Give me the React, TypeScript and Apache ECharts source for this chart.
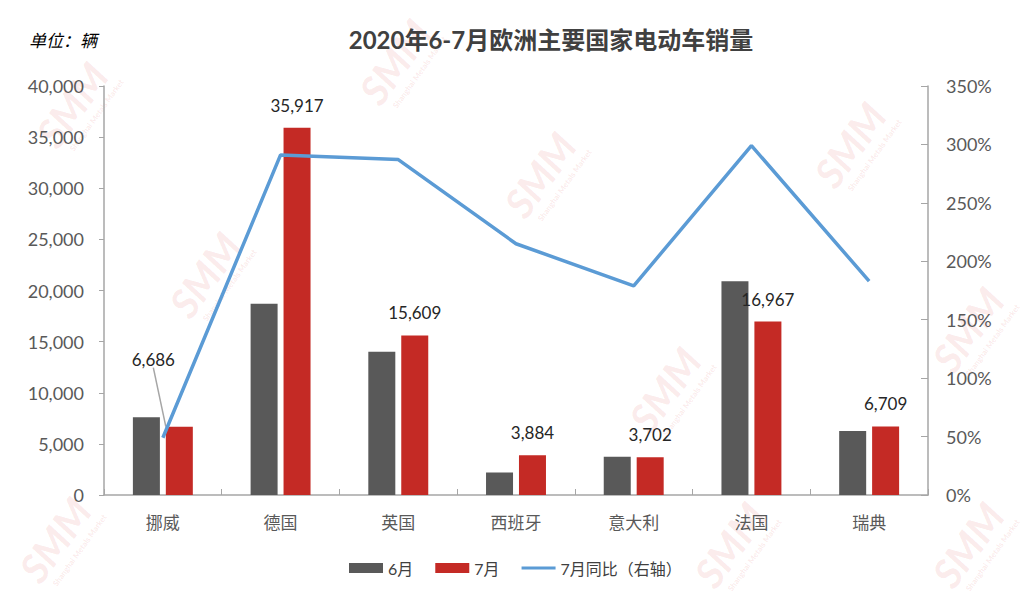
import React, { useEffect, useRef } from "react";
import * as echarts from "echarts";

const categories = ["挪威", "德国", "英国", "西班牙", "意大利", "法国", "瑞典"];
const june = [7600, 18700, 14000, 2200, 3750, 20900, 6250];
const july = [6686, 35917, 15609, 3884, 3702, 16967, 6709];
const yoyJuly = [49, 291, 287, 215, 179, 299, 183];
const leftTicks = [0, 40000, 5000];
const rightTicks = [0, 350, 50];
const watermarkSpots = [
  [72, 105],
  [395, 62],
  [205, 275],
  [540, 175],
  [665, 390],
  [850, 145],
  [968, 330],
  [55, 540],
  [730, 545],
  [968, 545],
];

const FONT = "Lato, 'Noto Sans CJK SC', sans-serif";

export default function App() {
  const ref = useRef<HTMLDivElement>(null);
  useEffect(() => {
    document.body.style.margin = "0";
    const chart = echarts.init(ref.current!, null, { renderer: "svg" });
    const watermarks = watermarkSpots.map(([x, y]) => ({
      type: "group",
      x,
      y,
      rotation: 0.95,
      z: -10,
      silent: true,
      children: [
        {
          type: "text",
          style: {
            text: "SMM",
            x: 0,
            y: 0,
            align: "center",
            verticalAlign: "middle",
            font: "italic bold 40px Lato, sans-serif",
            fill: "rgba(215, 60, 60, 0.11)",
          },
        },
        {
          type: "text",
          style: {
            text: "Shanghai Metals Market",
            x: 6,
            y: 26,
            align: "center",
            verticalAlign: "middle",
            font: "bold 8px Lato, sans-serif",
            fill: "rgba(215, 60, 60, 0.11)",
          },
        },
      ],
    }));
    const option: any = {
      animation: false,
      backgroundColor: "#ffffff",
      textStyle: { fontFamily: FONT },
      graphic: watermarks,
      title: [
        {
          text: "2020年6-7月欧洲主要国家电动车销量",
          left: 546,
          top: 22,
          textAlign: "center",
          textStyle: { fontSize: 24, fontWeight: "bold", color: "#404040", fontFamily: FONT },
        },
        {
          text: "单位：辆",
          left: 24,
          top: 27,
          textStyle: { fontSize: 17, fontStyle: "italic", fontWeight: "normal", color: "#000000", fontFamily: FONT },
        },
      ],
      legend: {
        bottom: 22,
        left: 344,
        itemWidth: 34,
        itemHeight: 10,
        itemGap: 22,
        textStyle: { fontSize: 16, color: "#404040", fontFamily: FONT },
        data: [
          { name: "6月", icon: "rect" },
          { name: "7月", icon: "rect" },
          { name: "7月同比（右轴）", icon: "path://M0,0H100V9H0Z" },
        ],
      },
      grid: { left: 104, right: 96, top: 86, bottom: 108, containLabel: false },
      xAxis: {
        type: "category",
        data: categories,
        axisLine: { lineStyle: { color: "#a6a6a6", width: 1.5 } },
        axisTick: { show: true, inside: true, length: 6, lineStyle: { color: "#a6a6a6" } },
        axisLabel: { fontSize: 17, color: "#595959", margin: 19, fontFamily: FONT },
      },
      yAxis: [
        {
          type: "value",
          min: leftTicks[0],
          max: leftTicks[1],
          interval: leftTicks[2],
          axisLine: { show: true, lineStyle: { color: "#a6a6a6", width: 1.5 } },
          axisTick: { show: true, length: 5, lineStyle: { color: "#a6a6a6" } },
          splitLine: { show: false },
          axisLabel: {
            fontSize: 18,
            color: "#595959",
            margin: 20,
            fontFamily: FONT,
            formatter: (v: number) => v.toLocaleString("en-US"),
          },
        },
        {
          type: "value",
          min: rightTicks[0],
          max: rightTicks[1],
          interval: rightTicks[2],
          position: "right",
          axisLine: { show: true, lineStyle: { color: "#a6a6a6", width: 1.5 } },
          axisTick: { show: true, inside: true, length: 7, lineStyle: { color: "#a6a6a6" } },
          splitLine: { show: false },
          axisLabel: {
            fontSize: 18,
            color: "#595959",
            margin: 18,
            fontFamily: FONT,
            formatter: (v: number) => v + "%",
          },
        },
      ],
      series: [
        {
          name: "6月",
          type: "bar",
          data: june,
          barWidth: 27,
          barGap: "22%",
          itemStyle: { color: "#595959" },
        },
        {
          name: "7月",
          type: "bar",
          data: july.map((v, i) =>
            i === 0 ? { value: v, labelLine: { show: true } } : { value: v }
          ),
          barWidth: 27,
          barGap: "22%",
          itemStyle: { color: "#c42a25" },
          label: {
            show: true,
            position: "top",
            distance: 14,
            fontSize: 17,
            color: "#262626",
            fontFamily: FONT,
            formatter: (p: any) => Number(p.value).toLocaleString("en-US"),
          },
          labelLine: { show: false, lineStyle: { color: "#a6a6a6", width: 1.5 } },
          labelLayout: (p: any) => (p.dataIndex === 0 ? { dx: -26, dy: -45 } : {}),
        },
        {
          name: "7月同比（右轴）",
          type: "line",
          yAxisIndex: 1,
          data: yoyJuly,
          symbol: "none",
          lineStyle: { color: "#5b9bd5", width: 3.5 },
          itemStyle: { color: "#5b9bd5" },
          z: 5,
        },
      ],
    };
    chart.setOption(option);
    return () => chart.dispose();
  }, []);
  return (
    <div
      ref={ref}
      style={{ position: "absolute", left: 0, top: 0, width: 1024, height: 603 }}
    />
  );
}
